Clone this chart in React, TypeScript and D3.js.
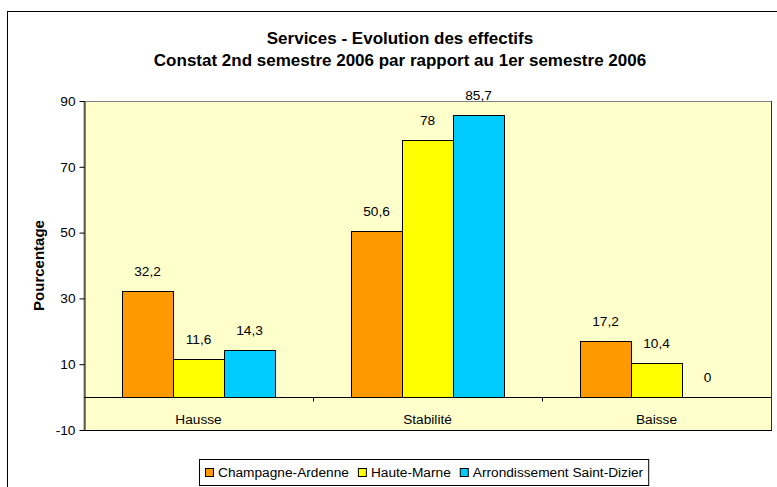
import { useEffect, useRef } from 'react';
import * as d3 from 'd3';

const categories = ['Hausse', 'Stabilité', 'Baisse'];
const seriesNames = ['Champagne-Ardenne', 'Haute-Marne', 'Arrondissement Saint-Dizier'];
const seriesColors = ['#FF9900', '#FFFF00', '#00CCFF'];
const champagneArdenne = [32.2, 50.6, 17.2];
const hauteMarne = [11.6, 78, 10.4];
const saintDizier = [14.3, 85.7, 0];
const yTicks = [-10, 10, 30, 50, 70, 90];
const titleLines = ['Services - Evolution des effectifs', 'Constat 2nd semestre 2006 par rapport au 1er semestre 2006'];

const FONT = "Arial, 'Liberation Sans', sans-serif";

export default function App() {
  const svgRef = useRef<SVGSVGElement>(null);

  useEffect(() => {
    if (!svgRef.current) return;
    const root = d3.select(svgRef.current);
    root.selectAll('*').remove();

    const plot = { left: 84, right: 771, top: 101, bottom: 430 };
    const values = [champagneArdenne, hauteMarne, saintDizier];

    // outer chart frame
    root.append('rect')
      .attr('x', 7.5).attr('y', 11.5)
      .attr('width', 800).attr('height', 520)
      .attr('fill', '#fff').attr('stroke', '#000');

    // titles
    root.selectAll('text.title')
      .data(titleLines)
      .join('text')
      .attr('class', 'title')
      .attr('x', 400)
      .attr('y', (_, i) => 44 + i * 22)
      .attr('text-anchor', 'middle')
      .attr('font-family', FONT)
      .attr('font-weight', 'bold')
      .attr('font-size', 17)
      .text(d => d);

    const y = d3.scaleLinear().domain([-10, 90]).range([plot.bottom, plot.top]);
    const x0 = d3.scaleBand<string>().domain(categories).range([plot.left, plot.right]);
    const x1 = d3.scaleBand<string>()
      .domain(seriesNames)
      .range([0, x0.bandwidth()])
      .paddingInner(0)
      .paddingOuter(0.745);

    // plot area
    root.append('rect')
      .attr('x', plot.left).attr('y', plot.top + 0.5)
      .attr('width', plot.right - plot.left + 0.5)
      .attr('height', plot.bottom - plot.top)
      .attr('fill', '#FFFFCC')
      .attr('stroke', '#808080');
    root.append('line')
      .attr('x1', plot.right + 0.5).attr('x2', plot.right + 0.5)
      .attr('y1', plot.top).attr('y2', plot.bottom)
      .attr('stroke', '#333');
    root.append('line')
      .attr('x1', plot.left).attr('x2', plot.right + 1)
      .attr('y1', plot.bottom + 0.5).attr('y2', plot.bottom + 0.5)
      .attr('stroke', '#000');

    // bars
    const groups = root.append('g')
      .selectAll('g')
      .data(categories)
      .join('g')
      .attr('transform', d => `translate(${x0(d)},0)`);

    groups.selectAll('rect')
      .data((_, ci) => seriesNames.map((s, si) => ({ s, si, v: values[si][ci] })))
      .join('rect')
      .attr('x', d => (x1(d.s) as number) + 0.5)
      .attr('y', d => Math.round(y(Math.max(0, d.v))) + 0.5)
      .attr('width', x1.bandwidth())
      .attr('height', d => Math.abs(Math.round(y(d.v)) - Math.round(y(0))))
      .attr('fill', d => seriesColors[d.si])
      .attr('stroke', '#000');

    groups.selectAll('text')
      .data((_, ci) => seriesNames.map((s, si) => ({ s, si, v: values[si][ci] })))
      .join('text')
      .attr('x', d => (x1(d.s) as number) + x1.bandwidth() / 2)
      .attr('y', d => y(d.v) - 15)
      .attr('text-anchor', 'middle')
      .attr('font-family', FONT)
      .attr('font-size', 13.7)
      .text(d => String(d.v).replace('.', ','));

    // y axis
    const yAxis = root.append('g')
      .attr('transform', `translate(${plot.left + 0.5},0)`)
      .call(d3.axisLeft(y).tickValues(yTicks).tickFormat(d => String(d)).tickSize(5).tickSizeOuter(0).tickPadding(4));
    yAxis.select('.domain').attr('stroke', '#000');
    yAxis.selectAll('line').attr('stroke', '#000');
    yAxis.selectAll('text')
      .attr('font-family', FONT)
      .attr('font-size', 13.7)
      .attr('fill', '#000');

    // category axis at zero
    const zeroY = Math.round(y(0)) + 0.5;
    root.append('line')
      .attr('x1', plot.left).attr('x2', plot.right)
      .attr('y1', zeroY).attr('y2', zeroY)
      .attr('stroke', '#000');
    root.selectAll('line.cat-tick')
      .data(categories.slice(1))
      .join('line')
      .attr('class', 'cat-tick')
      .attr('x1', d => Math.round(x0(d) as number) + 0.5)
      .attr('x2', d => Math.round(x0(d) as number) + 0.5)
      .attr('y1', zeroY).attr('y2', zeroY + 4)
      .attr('stroke', '#000');
    root.selectAll('text.cat')
      .data(categories)
      .join('text')
      .attr('class', 'cat')
      .attr('x', d => (x0(d) as number) + x0.bandwidth() / 2)
      .attr('y', zeroY + 26)
      .attr('text-anchor', 'middle')
      .attr('font-family', FONT)
      .attr('font-size', 13.7)
      .text(d => d);

    // y axis title
    root.append('text')
      .attr('transform', `translate(44,${(plot.top + plot.bottom) / 2}) rotate(-90)`)
      .attr('text-anchor', 'middle')
      .attr('font-family', FONT)
      .attr('font-weight', 'bold')
      .attr('font-size', 15)
      .text('Pourcentage');

    // legend
    const legendBox = root.append('rect')
      .attr('x', 199.5).attr('y', 459.5)
      .attr('height', 26)
      .attr('fill', '#fff')
      .attr('stroke', '#000');
    const legend = root.append('g');
    let cursor = 205;
    seriesNames.forEach((name, i) => {
      legend.append('rect')
        .attr('x', cursor + 0.5).attr('y', 468.5)
        .attr('width', 8).attr('height', 8)
        .attr('fill', seriesColors[i])
        .attr('stroke', '#000');
      const t = legend.append('text')
        .attr('x', cursor + 13)
        .attr('y', 477)
        .attr('font-family', FONT)
        .attr('font-size', 13.7)
        .text(name);
      const w = (t.node() as SVGTextElement).getComputedTextLength();
      cursor = cursor + 13 + w + 9;
    });
    legendBox.attr('width', cursor - 199 - 4);
  }, []);

  return (
    <div style={{ position: 'absolute', left: 0, top: 0 }}>
      <svg ref={svgRef} width={777} height={487} style={{ display: 'block' }} />
    </div>
  );
}
